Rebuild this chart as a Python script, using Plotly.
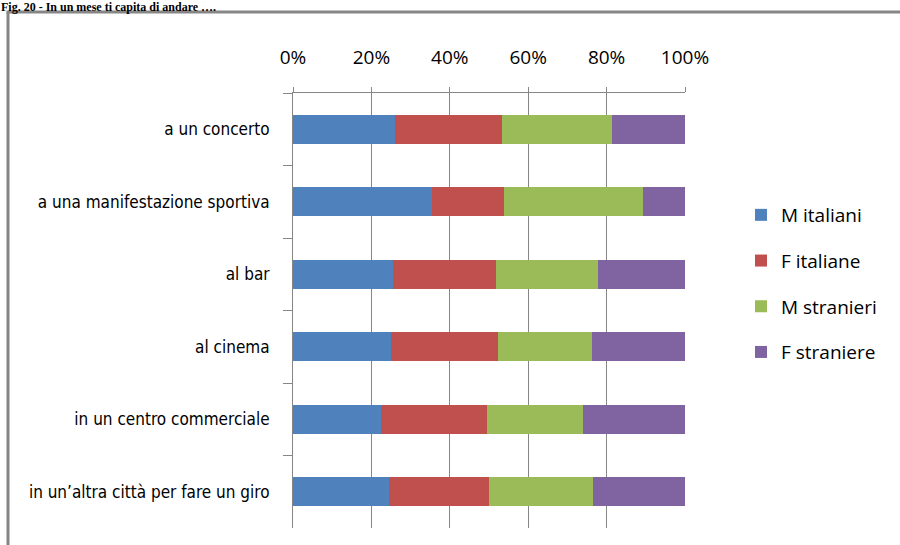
import plotly.graph_objects as go

categories = [
    "a un concerto",
    "a una manifestazione sportiva",
    "al bar",
    "al cinema",
    "in un centro commerciale",
    "in un\u2019altra citt\u00e0 per fare un giro",
]
series_names = ["M italiani", "F italiane", "M stranieri", "F straniere"]
m_italiani = [25.9, 35.4, 25.5, 24.9, 22.4, 24.4]
f_italiane = [27.3, 18.3, 26.4, 27.3, 27.2, 25.7]
m_stranieri = [28.3, 35.7, 25.8, 24.2, 24.5, 26.5]
f_straniere = [18.5, 10.6, 22.3, 23.6, 25.9, 23.4]
colors = ["#4F81BD", "#C0504D", "#9BBB59", "#8064A2"]
x_ticks = [0, 0.2, 0.4, 0.6, 0.8, 1.0]
title_text = "Fig. 20 - In un mese ti capita di andare \u2026."

W, H = 900, 545
L, R, T, B = 293, 215, 93, 17
pw, ph = W - L - R, H - T - B

def px_x(p):
    return (p - L) / pw

def px_y(p):
    return (H - B - p) / ph

fig = go.Figure()
for i, (name, vals) in enumerate(zip(series_names, [m_italiani, f_italiane, m_stranieri, f_straniere])):
    fig.add_trace(go.Bar(
        y=categories, x=vals, name=name, orientation="h",
        marker=dict(color=colors[i], line=dict(width=0)),
        legendgroup="g%d" % i,
    ))

grey = "#868686"
fig.update_layout(
    width=W, height=H,
    margin=dict(l=L, r=R, t=T, b=B, autoexpand=False),
    paper_bgcolor="white", plot_bgcolor="white",
    barmode="stack", barnorm="fraction", bargap=0.6,
    showlegend=True,
    legend=dict(
        x=px_x(741), y=px_y(196), xanchor="left", yanchor="top",
        font=dict(family="Open Sans, sans-serif", size=19, color="#000000"),
        traceorder="grouped", tracegroupgap=18,
        bgcolor="rgba(0,0,0,0)", itemclick=False,
    ),
    xaxis=dict(
        side="top", range=[0, 1], tickvals=x_ticks, tickformat=".0%",
        showgrid=True, gridcolor=grey, gridwidth=1,
        showline=True, linecolor=grey, linewidth=1,
        ticks="outside", ticklen=5, tickcolor=grey, ticklabelstandoff=15,
        tickfont=dict(family="Open Sans, sans-serif", size=19, color="#000000"),
        zeroline=False, fixedrange=True,
    ),
    yaxis=dict(
        autorange="reversed", type="category",
        showline=True, linecolor=grey, linewidth=1,
        ticks="outside", ticklen=9, tickcolor=grey, tickson="boundaries",
        showgrid=False, ticklabelstandoff=19,
        tickfont=dict(family="Liberation Sans Narrow, DejaVu Sans Condensed, sans-serif", size=17, color="#000000"),
        fixedrange=True,
    ),
    shapes=[
        dict(type="line", xref="paper", yref="paper",
             x0=px_x(8), x1=px_x(8), y0=px_y(560), y1=px_y(12),
             line=dict(color=grey, width=3)),
        dict(type="line", xref="paper", yref="paper",
             x0=px_x(6.5), x1=px_x(910), y0=px_y(12), y1=px_y(12),
             line=dict(color=grey, width=3)),
    ],
    annotations=[
        dict(text="<b>" + title_text + "</b>", xref="paper", yref="paper",
             x=px_x(0), y=px_y(-1), xanchor="left", yanchor="top",
             showarrow=False, borderpad=0,
             font=dict(family="Liberation Serif, Times New Roman, serif", size=12, color="#000000")),
    ],
)

fig.write_html("out.html", config={"displayModeBar": False},
               post_script="document.body.style.margin='0';document.body.style.padding='0';")
